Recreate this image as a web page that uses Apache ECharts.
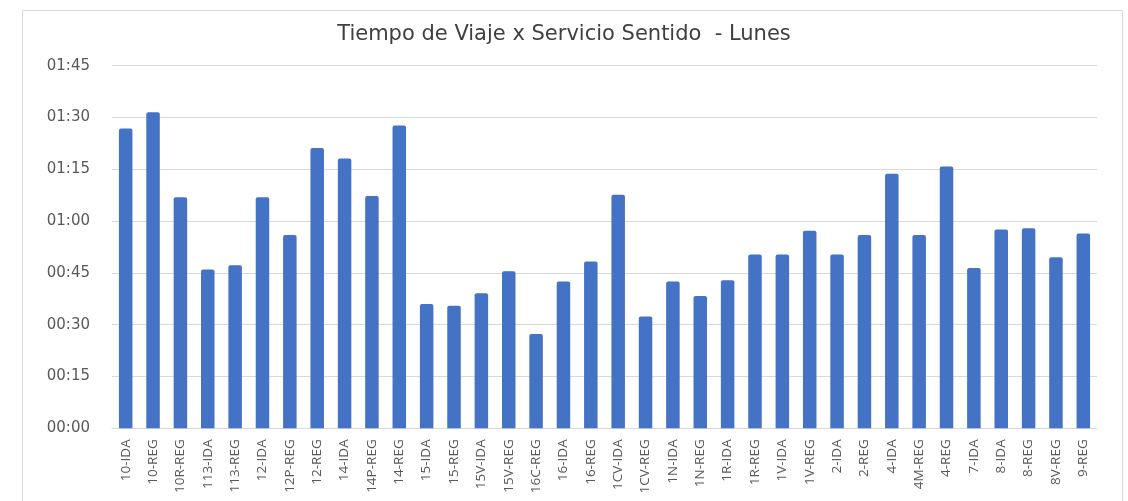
<!DOCTYPE html>
<html>
<head>
<meta charset="utf-8">
<script src="https://cdn.jsdelivr.net/npm/echarts@6/dist/echarts.min.js"></script>
<style>
  html, body { margin: 0; padding: 0; background: #ffffff; }
  #chart { width: 1128px; height: 501px; }
</style>
</head>
<body>
<div id="chart"></div>
<script>
// Servicio-sentido categories along the x axis
const servicios = [
  '10-IDA', '10-REG', '10R-REG', '113-IDA', '113-REG', '12-IDA', '12P-REG', '12-REG',
  '14-IDA', '14P-REG', '14-REG', '15-IDA', '15-REG', '15V-IDA', '15V-REG', '16C-REG',
  '16-IDA', '16-REG', '1CV-IDA', '1CV-REG', '1N-IDA', '1N-REG', '1R-IDA', '1R-REG',
  '1V-IDA', '1V-REG', '2-IDA', '2-REG', '4-IDA', '4M-REG', '4-REG', '7-IDA',
  '8-IDA', '8-REG', '8V-REG', '9-REG'
];

// Travel time per service, in minutes
const tiempoMin = [
  86.8, 91.5, 66.9, 46.0, 47.2, 66.9, 56.0, 81.2,
  78.1, 67.3, 87.7, 36.0, 35.5, 39.1, 45.5, 27.3,
  42.5, 48.3, 67.6, 32.4, 42.5, 38.3, 42.9, 50.3,
  50.3, 57.2, 50.3, 56.0, 73.7, 56.0, 75.8, 46.4,
  57.6, 57.9, 49.5, 56.4
];

// Y axis range in minutes (labels shown as hh:mm)
const yMin = 0;
const yMax = 105;
const yStep = 15;

function toHHMM(v) {
  const h = Math.floor(v / 60);
  const m = Math.round(v % 60);
  return String(h).padStart(2, '0') + ':' + String(m).padStart(2, '0');
}

const chart = echarts.init(document.getElementById('chart'), null, { renderer: 'canvas' });

chart.setOption({
  animation: false,
  backgroundColor: '#ffffff',
  title: {
    text: 'Tiempo de Viaje x Servicio Sentido  - Lunes',
    left: 'center',
    top: 19,
    textStyle: {
      fontFamily: 'DejaVu Sans',
      fontSize: 21,
      fontWeight: 'normal',
      color: '#404040'
    }
  },
  graphic: [{
    type: 'rect',
    shape: { x: 22.5, y: 10.5, width: 1100, height: 500 },
    style: { fill: 'none', stroke: '#d9d9d9', lineWidth: 1 },
    silent: true,
    z: -1
  }],
  grid: {
    left: 112,
    right: 31,
    top: 65.7,
    bottom: 72.7
  },
  xAxis: {
    type: 'category',
    data: servicios,
    axisLine: { show: true, lineStyle: { color: '#d9d9d9', width: 1 } },
    axisTick: { show: false },
    axisLabel: {
      interval: 0,
      rotate: 90,
      margin: 11,
      fontFamily: 'Open Sans',
      fontSize: 13.5,
      color: '#595959'
    }
  },
  yAxis: {
    type: 'value',
    min: yMin,
    max: yMax,
    interval: yStep,
    axisLine: { show: false },
    axisTick: { show: false },
    splitLine: { lineStyle: { color: '#d9d9d9', width: 1 } },
    axisLabel: {
      margin: 22,
      fontFamily: 'DejaVu Sans',
      fontSize: 15,
      color: '#595959',
      formatter: toHHMM
    }
  },
  series: [{
    type: 'bar',
    data: tiempoMin,
    barWidth: 13.5,
    itemStyle: {
      color: '#4472C4',
      borderRadius: [2, 2, 0, 0]
    }
  }]
});
</script>
</body>
</html>
